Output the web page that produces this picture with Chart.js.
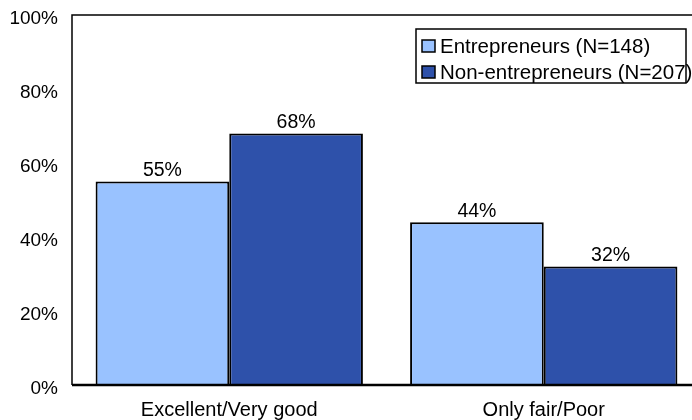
<!DOCTYPE html>
<html>
<head>
<meta charset="utf-8">
<script src="https://cdn.jsdelivr.net/npm/chart.js@4"></script>
<style>
  html, body { margin: 0; padding: 0; background: #fff; overflow: hidden; }
  #wrap { width: 692px; height: 420px; overflow: hidden; }
</style>
</head>
<body>
<div id="wrap"><canvas id="health" width="720" height="420"></canvas></div>
<script>
// self-rated health, share of each group
const categories = ["Excellent/Very good", "Only fair/Poor"];
const seriesNames = ["Entrepreneurs (N=148)", "Non-entrepreneurs (N=207)"];
const entrepreneurs = [55, 44];
const nonEntrepreneurs = [68, 32];
const yTicks = [0, 20, 40, 60, 80, 100];

const FONT = "'Liberation Sans', Arial, sans-serif";
const LIGHT = "#99c2ff";
const DARK = "#2e51aa";

// frame around the plot area
const frame = {
    id: "frame",
    afterDatasetsDraw(chart) {
        const a = chart.chartArea;
        const ctx = chart.ctx;
        ctx.save();
        ctx.strokeStyle = "#000";
        ctx.lineWidth = 1.5;
        ctx.beginPath();
        ctx.moveTo(a.left, a.bottom);
        ctx.lineTo(a.left, a.top);
        ctx.lineTo(a.right, a.top);
        ctx.lineTo(a.right, a.bottom);
        ctx.stroke();
        ctx.lineWidth = 2.5;
        ctx.beginPath();
        ctx.moveTo(a.left, a.bottom);
        ctx.lineTo(a.right, a.bottom);
        ctx.stroke();
        ctx.restore();
    }
};

// value text above each bar
const valueLabels = {
    id: "valueLabels",
    afterDatasetsDraw(chart) {
        const ctx = chart.ctx;
        ctx.save();
        ctx.font = "19.5px " + FONT;
        ctx.fillStyle = "#000";
        ctx.textAlign = "center";
        ctx.textBaseline = "bottom";
        chart.data.datasets.forEach((ds, i) => {
            chart.getDatasetMeta(i).data.forEach((bar, j) => {
                ctx.fillText(ds.data[j] + "%", bar.x, bar.y - 1);
            });
        });
        ctx.restore();
    }
};

// boxed legend in the top right corner
const boxLegend = {
    id: "boxLegend",
    afterDraw(chart) {
        const ctx = chart.ctx;
        const x = 416, y = 29, w = 270, h = 54;
        ctx.save();
        ctx.fillStyle = "#fff";
        ctx.fillRect(x, y, w, h);
        ctx.strokeStyle = "#000";
        ctx.lineWidth = 1.5;
        ctx.strokeRect(x, y, w, h);
        ctx.font = "20.5px " + FONT;
        ctx.textBaseline = "middle";
        chart.data.datasets.forEach((ds, i) => {
            const cy = 46 + i * 26;
            ctx.fillStyle = ds.backgroundColor;
            ctx.fillRect(422, cy - 6, 13, 12);
            ctx.lineWidth = 1.5;
            ctx.strokeRect(422, cy - 6, 13, 12);
            ctx.fillStyle = "#000";
            ctx.fillText(ds.label, 440, cy + 1);
        });
        ctx.restore();
    }
};

const chart = new Chart(document.querySelector("#health").getContext("2d"), {
    type: "bar",
    data: {
        labels: categories,
        datasets: [
            {
                label: seriesNames[0],
                data: entrepreneurs,
                backgroundColor: LIGHT,
                borderColor: "#000",
                borderWidth: 2,
            },
            {
                label: seriesNames[1],
                data: nonEntrepreneurs,
                backgroundColor: DARK,
                borderColor: "#000",
                borderWidth: 2,
            },
        ],
    },
    options: {
        responsive: false,
        animation: false,
        layout: { padding: { top: 15, right: 19, left: 0, bottom: 0 } },
        datasets: {
            bar: { categoryPercentage: 0.85, barPercentage: 1.0 },
        },
        scales: {
            x: {
                grid: { display: false, drawTicks: false },
                border: { display: false },
                ticks: {
                    color: "#000",
                    font: { family: FONT, size: 20 },
                    padding: 13,
                },
                afterFit(scale) {
                    scale.height = 35;
                    scale.paddingLeft = 0;
                    scale.paddingRight = 0;
                },
            },
            y: {
                min: 0,
                max: 100,
                afterBuildTicks(scale) {
                    scale.ticks = yTicks.map(v => ({ value: v }));
                },
                grid: { display: false, drawTicks: false },
                border: { display: false },
                ticks: {
                    color: "#000",
                    font: { family: FONT, size: 19 },
                    padding: 14,
                    labelOffset: 4,
                    callback: v => v + "%",
                },
                afterFit(scale) {
                    scale.width = 72;
                    scale.paddingTop = 0;
                    scale.paddingBottom = 0;
                },
            },
        },
        plugins: {
            legend: { display: false },
            tooltip: { enabled: false },
            title: { display: false },
        },
    },
    plugins: [frame, valueLabels, boxLegend],
});
</script>
</body>
</html>
